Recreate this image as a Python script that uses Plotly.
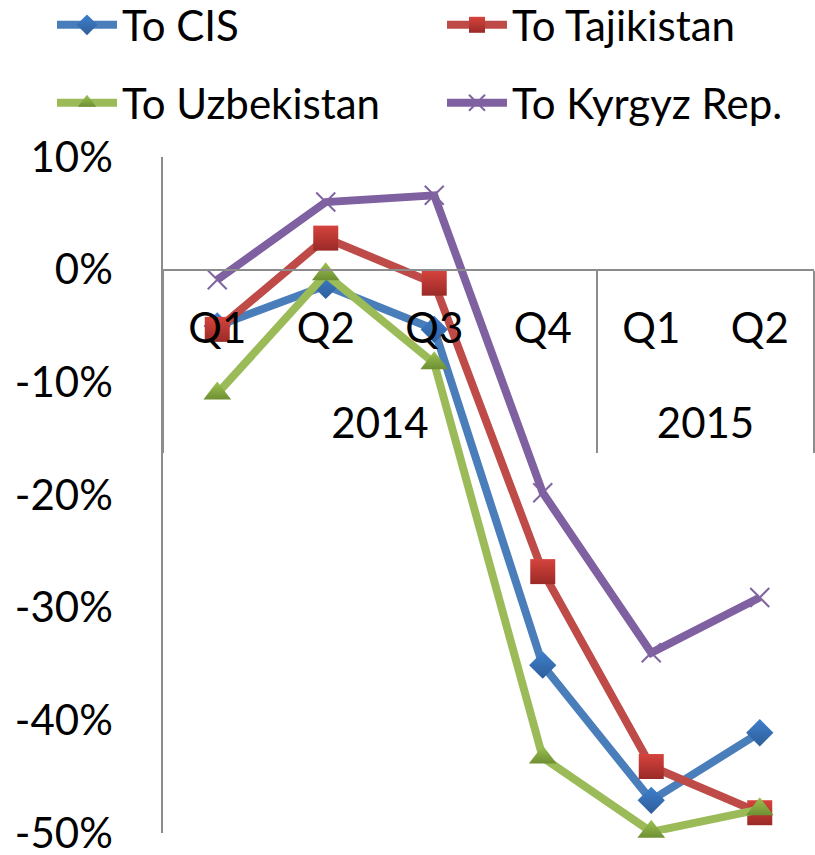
import plotly.graph_objects as go

quarters = ["Q1", "Q2", "Q3", "Q4", "Q1", "Q2"]
quarter_pos = [0, 1, 2, 3, 4, 5]
years = ["2014", "2015"]
year_pos = [1.5, 4.5]
year_bounds = [-0.5, 3.5, 5.5]

to_cis = [-5.0, -1.4, -5.3, -35.1, -47.1, -41.1]
to_tajikistan = [-5.3, 2.8, -1.2, -26.8, -44.1, -48.2]
to_uzbekistan = [-11.0, -0.4, -8.3, -43.3, -49.9, -47.9]
to_kyrgyz = [-0.9, 6.0, 6.6, -19.8, -34.0, -29.1]

ytickvals = [10, 0, -10, -20, -30, -40, -50]
yticktext = ["10%", "0%", "-10%", "-20%", "-30%", "-40%", "-50%"]

FONT = "Lato"
GRAY = "#8C8C8C"
ZERO_POS = 50 / 60

series = [
    dict(name="To CIS", y=to_cis, line="#4A7EBB", symbol="diamond", size=21,
         mcolor="#3F7FCC", grad="#2E5E9A", legend="legend"),
    dict(name="To Tajikistan", y=to_tajikistan, line="#BE4B48", symbol="square", size=25,
         mcolor="#D6433D", grad="#9A2A27", legend="legend2"),
    dict(name="To Uzbekistan", y=to_uzbekistan, line="#9BBB59", symbol="triangle-up", size=24,
         mcolor="#9CC250", grad="#6E8F33", legend="legend3"),
    dict(name="To Kyrgyz Rep.", y=to_kyrgyz, line="#7F60A0", symbol="x-thin", size=19,
         mcolor="#8064A2", grad=None, legend="legend4"),
]

fig = go.Figure()
for s in series:
    marker = dict(symbol=s["symbol"], size=s["size"], color=s["mcolor"])
    if s["grad"]:
        marker["gradient"] = dict(type="vertical", color=s["grad"])
        marker["line"] = dict(width=0)
    else:
        marker["line"] = dict(width=2, color=s["mcolor"])
    fig.add_trace(go.Scatter(
        x=quarter_pos, y=s["y"], name=s["name"], mode="lines+markers",
        line=dict(color=s["line"], width=8), marker=marker,
        legend=s["legend"], cliponaxis=False,
    ))

# invisible helper traces so the overlay axes get drawn
fig.add_trace(go.Scatter(x=year_pos, y=[None, None], xaxis="x2", showlegend=False,
                         hoverinfo="skip"))
fig.add_trace(go.Scatter(x=year_bounds, y=[None, None, None], xaxis="x3", showlegend=False,
                         hoverinfo="skip"))


def leg(xpx, ypx):
    return dict(
        orientation="h", xref="container", yref="container",
        x=xpx / 815, y=1 - ypx / 855, xanchor="left", yanchor="middle",
        font=dict(family=FONT, size=42, color="black"),
        bgcolor="rgba(0,0,0,0)", itemwidth=60,
    )


fig.update_layout(
    width=815, height=855,
    margin=dict(l=163, r=1, t=157, b=22, autoexpand=False),
    paper_bgcolor="white", plot_bgcolor="white",
    font=dict(family=FONT, size=42, color="black"),
    legend=leg(52, 25),
    legend2=leg(442, 25),
    legend3=leg(52, 103),
    legend4=leg(442, 103),
    xaxis=dict(
        range=[-0.5, 5.5], tickvals=quarter_pos, ticktext=quarters,
        anchor="free", position=ZERO_POS,
        showline=True, linecolor=GRAY, linewidth=1.5,
        showgrid=False, zeroline=False, ticks="",
        tickfont=dict(family=FONT, size=42, color="black"),
        ticklabelstandoff=22,
    ),
    xaxis2=dict(
        overlaying="x", matches="x", anchor="free", position=ZERO_POS,
        tickvals=year_pos, ticktext=years, showline=False, showgrid=False,
        zeroline=False, ticks="", ticklabelstandoff=125,
        tickfont=dict(family=FONT, size=42, color="black"),
    ),
    xaxis3=dict(
        overlaying="x", matches="x", anchor="free", position=ZERO_POS,
        tickvals=year_bounds, showticklabels=False, showline=False, showgrid=False,
        zeroline=False, ticks="outside", ticklen=182, tickwidth=1.5, tickcolor=GRAY,
    ),
    yaxis=dict(
        range=[-50, 10], tickvals=ytickvals, ticktext=yticktext,
        showline=True, linecolor=GRAY, linewidth=1.5,
        showgrid=False, zeroline=True, zerolinecolor=GRAY, zerolinewidth=1.5,
        ticks="", ticklabelstandoff=40, ticklabeloverflow="allow",
        tickfont=dict(family=FONT, size=42, color="black"),
    ),
)

fig.write_html("out.html", config={"displayModeBar": False},
               post_script="document.body.style.margin='0';")
